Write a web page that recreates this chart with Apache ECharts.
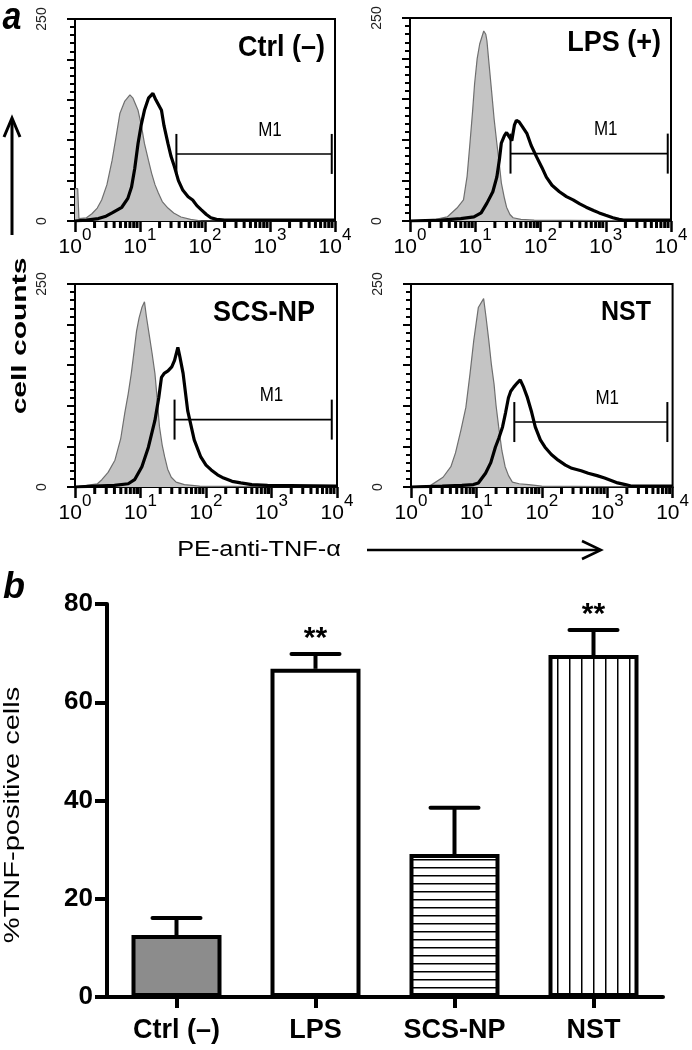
<!DOCTYPE html>
<html><head><meta charset="utf-8">
<script src="https://cdn.jsdelivr.net/npm/echarts@6/dist/echarts.min.js"></script>
<style>html,body{margin:0;padding:0;background:#fff}#chart{width:692px;height:1050px}</style>
</head><body><div id="chart"></div>
<script>
// ---------- Panel a: flow cytometry histograms (x = fluorescence, y = cell counts) ----------
const xExpLabels = ['0', '1', '2', '3', '4'];
const minorTickValues = [2,3,4,5,6,7,8,9,20,30,40,50,60,70,80,90,200,300,400,500,600,700,800,900,2000,3000,4000,5000,6000,7000,8000,9000];
const yHistLabelValues = [0, 250];
const panelTitles = ['Ctrl (–)', 'LPS (+)', 'SCS-NP', 'NST'];
const gateLabel = 'M1';
const gateLabelX = 1000;

const grayCtrl = [[1,40],[1.1,40],[1.15,3],[1.5,4],[1.82,9],[2.2,16],[2.57,26],[3.1,45],[3.72,75],[4.3,105],[4.9,133],[5.8,148],[7.0,156],[7.8,152],[9.33,137],[10.5,118],[11.7,96],[13.5,75],[15.1,59],[17,45],[19.1,35],[22,24],[26.9,16],[33,10],[42.7,5],[60,2],[89,0],[10000,0]];
const blackCtrl = [[1,0],[1.5,1],[2.29,3],[3.0,6],[3.72,10],[5.25,17],[6.5,28],[7.41,42],[8.3,65],[9.33,96],[10.5,120],[11.7,137],[13.5,152],[15.8,158],[17.5,150],[21.4,137],[23.4,118],[26.9,96],[30,80],[33.9,67],[39,50],[45.7,38],[55,30],[64.6,26],[75,19],[87.1,14],[105,8],[123,4],[150,2],[200,1],[10000,1]];

const grayLps = [[1,0],[2.5,2],[3.72,5],[5.25,16],[6.6,26],[7.5,55],[8.3,96],[9.1,135],[9.77,169],[10.7,200],[11.7,218],[13.5,234],[14.5,230],[15.1,222],[16.2,195],[17.8,160],[19.5,125],[21.4,96],[23.4,70],[25.1,47],[28,28],[30.2,17],[34,8],[38,4],[50,2],[80,1],[10000,0]];
const blackLps = [[1,0],[3,1],[6,3],[9.55,5],[12.3,10],[15.1,22],[18.6,36],[21.4,54],[23.4,75],[25.1,96],[28,105],[30.2,109],[33,104],[36.3,99],[39.8,118],[42.7,124],[47,122],[53,116],[61.7,108],[72,93],[87.1,79],[105,66],[123,54],[150,44],[195,36],[250,30],[316,26],[400,21],[501,17],[650,13],[794,10],[1000,7],[1288,4],[1600,2],[1862,1],[10000,1]];

const grayScs = [[1,0],[1.5,2],[2.2,4],[2.57,9],[3.2,18],[4.07,33],[5,60],[5.75,91],[6.5,115],[7.24,140],[8.0,168],[8.7,192],[9.5,208],[10.5,221],[11.5,228],[12.3,210],[13.8,184],[15,165],[16.6,140],[18,108],[19.5,74],[21.4,52],[23.4,37],[26,22],[29.5,12],[35,6],[46.8,3],[80,1],[10000,0]];
const blackScs = [[1,0],[2,1],[4,2],[6.5,4],[8.13,9],[10.5,25],[13.2,49],[16.6,82],[19,110],[20.9,135],[23,140],[26.3,143],[30,148],[33.1,156],[37.2,172],[40,160],[44.7,140],[52.5,94],[66.1,58],[83.2,37],[100,27],[120,21],[150,15],[186,11],[250,7],[339,5],[500,3],[871,2],[10000,1]];

const grayNst = [[1,0],[2,2],[3.09,12],[4.07,25],[4.79,42],[5.8,70],[6.9,98],[8,140],[9.1,180],[10.7,221],[12.9,232],[14,210],[15.5,180],[17,150],[18.6,127],[20,100],[21.9,74],[24.5,45],[27.5,25],[31,14],[35.5,6],[45,4],[63.1,3],[100,1],[10000,0]];
const blackNst = [[1,0],[3,1],[6,2],[9,3],[10.7,5],[13.8,17],[16.6,30],[19.5,49],[22,60],[25.1,74],[28,92],[30.9,110],[33.5,118],[37.2,123],[42,128],[46.8,132],[52,124],[60.3,110],[70,92],[79.4,74],[95,58],[112,49],[140,40],[178,33],[230,27],[288,23],[400,20],[513,17],[700,14],[912,11],[1150,8],[1445,5],[1900,3],[2399,1],[10000,1]];

// M1 gate: [start, end, level]
const gateCtrl = [36.3, 8913, 83];
const gateLps = [34.7, 8913, 83];
const gateScs = [33.1, 8318, 83];
const gateNst = [38, 8318, 80];

// ---------- Panel b: bar chart ----------
const barCategories = ['Ctrl (–)', 'LPS', 'SCS-NP', 'NST'];
const barMeans = [12.6, 66.8, 29.1, 69.6];
const barErrTop = [16.1, 69.8, 38.5, 74.7];
const barSignif = ['', '**', '', '**'];
const barTickLabels = ['0', '20', '40', '60', '80'];

// ---------- layout / style ----------
const FONT = '"Liberation Sans", Arial, Helvetica, sans-serif';
const grays = [grayCtrl, grayLps, grayScs, grayNst];
const blacks = [blackCtrl, blackLps, blackScs, blackNst];
const gates = [gateCtrl, gateLps, gateScs, gateNst];
const histGrids = [
  {left: 75, top: 19, width: 260, height: 202},
  {left: 410, top: 18, width: 261, height: 203},
  {left: 75, top: 284, width: 262, height: 203},
  {left: 411, top: 284, width: 262, height: 203}
];
const titlePos = [[325, 48, 27], [661, 43, 27], [315, 313, 27], [651, 312, 25]];

function makePattern(w, h, draw) {
  const c = document.createElement('canvas');
  c.width = w; c.height = h;
  const ctx = c.getContext('2d');
  ctx.fillStyle = '#fff'; ctx.fillRect(0, 0, w, h);
  ctx.fillStyle = '#000'; draw(ctx, w, h);
  return c;
}
const hPattern = makePattern(4, 8, (ctx, w) => ctx.fillRect(0, 3, w, 1.5));
const vPattern = makePattern(12, 4, (ctx, w, h) => ctx.fillRect(5, 0, 1.5, h));
const barFills = ['#8c8c8c', '#ffffff', {image: hPattern, repeat: 'repeat'}, {image: vPattern, repeat: 'repeat'}];

const grid = [], xAxis = [], yAxis = [], series = [];
histGrids.forEach((g, i) => {
  grid.push(Object.assign({show: true, borderColor: '#000', borderWidth: 2}, g));
  xAxis.push({
    type: 'log', logBase: 10, min: 1, max: 10000, gridIndex: i,
    axisLine: {show: true, onZero: false, lineStyle: {color: '#000', width: 2}},
    axisTick: {show: true, length: 11, lineStyle: {color: '#000', width: 2.5}},
    splitLine: {show: false},
    axisLabel: {
      margin: 6,
      formatter: v => '{b|10}{s|' + xExpLabels[Math.round(Math.log10(v))] + '}',
      rich: {
        b: {fontSize: 21, fontFamily: FONT, color: '#000', padding: [10, 0, 0, 0], verticalAlign: 'bottom'},
        s: {fontSize: 17, fontFamily: FONT, color: '#000', verticalAlign: 'top'}
      }
    }
  });
  yAxis.push({
    type: 'value', min: 0, max: 250, interval: 50, gridIndex: i,
    axisLine: {show: true, onZero: false, lineStyle: {color: '#000', width: 2}},
    axisTick: {show: true, length: 8, lineStyle: {color: '#000', width: 2}},
    minorTick: {show: true, splitNumber: 5, length: 5, lineStyle: {color: '#000', width: 2}},
    splitLine: {show: false},
    minorSplitLine: {show: false},
    axisLabel: {rotate: 90, margin: 26, fontSize: 14, fontFamily: FONT, color: '#222',
      formatter: v => yHistLabelValues.indexOf(v) >= 0 ? String(v) : ''}
  });
  series.push({type: 'line', xAxisIndex: i, yAxisIndex: i, data: grays[i], symbol: 'none',
    lineStyle: {color: '#6f6f6f', width: 1.2}, areaStyle: {color: '#c4c4c4', opacity: 1}, z: 2, silent: true});
  series.push({type: 'line', xAxisIndex: i, yAxisIndex: i, data: blacks[i], symbol: 'none',
    lineStyle: {color: '#000', width: 3.2}, z: 3, silent: true});
  series.push({type: 'custom', xAxisIndex: i, yAxisIndex: i, data: [gates[i]], z: 4, silent: true, clip: false,
    renderItem: (params, api) => {
      const s = api.value(0), e = api.value(1), y = api.value(2);
      const p1 = api.coord([s, y]), p2 = api.coord([e, y]);
      const lp = api.coord([gateLabelX, y]);
      return {type: 'group', children: [
        {type: 'line', shape: {x1: p1[0], y1: p1[1], x2: p2[0], y2: p2[1]}, style: {stroke: '#000', lineWidth: 1.6}},
        {type: 'line', shape: {x1: p1[0], y1: p1[1] - 20, x2: p1[0], y2: p1[1] + 20}, style: {stroke: '#000', lineWidth: 2}},
        {type: 'line', shape: {x1: p2[0], y1: p2[1] - 20, x2: p2[0], y2: p2[1] + 20}, style: {stroke: '#000', lineWidth: 2}},
        {type: 'text', x: lp[0], y: lp[1] - 24, scaleY: 1.2,
          style: {text: gateLabel, font: '17px ' + FONT, fill: '#000', align: 'center', verticalAlign: 'middle', textAlign: 'center', textVerticalAlign: 'middle'}}
      ]};
    }});
  series.push({type: 'custom', xAxisIndex: i, yAxisIndex: i, data: minorTickValues.map(v => [v, 0]), z: 5, silent: true, clip: false,
    renderItem: (params, api) => {
      const p = api.coord([api.value(0), 0]);
      return {type: 'line', shape: {x1: p[0], y1: p[1] + 1, x2: p[0], y2: p[1] + 7}, style: {stroke: '#000', lineWidth: 3}};
    }});
});

// bar chart grid
grid.push({left: 107, top: 604, width: 556, height: 393, show: false});
xAxis.push({
  type: 'category', gridIndex: 4, data: barCategories,
  axisLine: {show: true, lineStyle: {color: '#000', width: 4}},
  axisTick: {show: true, alignWithLabel: true, length: 11, lineStyle: {color: '#000', width: 4}},
  axisLabel: {margin: 20, fontSize: 27, fontWeight: 'bold', fontFamily: FONT, color: '#000'}
});
yAxis.push({
  type: 'value', gridIndex: 4, min: 0, max: 80, interval: 20,
  axisLine: {show: true, lineStyle: {color: '#000', width: 4}},
  axisTick: {show: true, length: 12, lineStyle: {color: '#000', width: 4}},
  splitLine: {show: false},
  axisLabel: {margin: 14, fontSize: 26, fontWeight: 'bold', fontFamily: FONT, color: '#000',
    formatter: v => barTickLabels[Math.round(v / 20)]}
});
series.push({
  type: 'bar', xAxisIndex: 4, yAxisIndex: 4, barWidth: 90, z: 2, silent: true,
  data: barMeans.map((v, i) => ({value: v, itemStyle: {color: barFills[i], borderColor: '#000', borderWidth: 4}}))
});
series.push({
  type: 'custom', xAxisIndex: 4, yAxisIndex: 4, z: 3, silent: true, clip: false,
  data: barMeans.map((v, i) => [i, v, barErrTop[i]]),
  renderItem: (params, api) => {
    const x = api.value(0);
    const p0 = api.coord([x, api.value(1)]), p1 = api.coord([x, api.value(2)]);
    return {type: 'group', children: [
      {type: 'line', shape: {x1: p0[0], y1: p0[1], x2: p1[0], y2: p1[1]}, style: {stroke: '#000', lineWidth: 4}},
      {type: 'line', shape: {x1: p1[0] - 24, y1: p1[1], x2: p1[0] + 24, y2: p1[1]}, style: {stroke: '#000', lineWidth: 4, lineCap: 'round'}},
      {type: 'text', x: p1[0], y: p1[1] - 15,
        style: {text: barSignif[params.dataIndex], font: 'bold 30px ' + FONT, fill: '#000', align: 'center', verticalAlign: 'middle', textAlign: 'center', textVerticalAlign: 'middle'}}
    ]};
  }
});

function txt(text, x, y, font, opts) {
  return Object.assign({type: 'text', x: x, y: y, silent: true,
    style: {text: text, font: font, fill: '#000', align: 'center', verticalAlign: 'middle', textAlign: 'center', textVerticalAlign: 'middle'}}, opts || {});
}
const graphic = [
  txt('a', 12, 18, 'italic bold 34px ' + FONT, {scaleY: 1.15}),
  txt('b', 14, 588, 'italic bold 36px ' + FONT),
  txt('cell counts', 20, 336, 'bold 20px ' + FONT, {rotation: Math.PI / 2, scaleX: 1.5}),
  txt('PE-anti-TNF-α', 259, 550, '22px ' + FONT, {scaleX: 1.15}),
  txt('%TNF-positive cells', 13, 815, '22px ' + FONT, {rotation: Math.PI / 2, scaleX: 1.32}),
  {type: 'line', silent: true, shape: {x1: 12, y1: 235, x2: 12, y2: 119}, style: {stroke: '#000', lineWidth: 3}},
  {type: 'polyline', silent: true, shape: {points: [[4, 137], [12, 118], [20, 137]]}, style: {stroke: '#000', lineWidth: 3, fill: null}},
  {type: 'line', silent: true, shape: {x1: 367, y1: 550, x2: 600, y2: 550}, style: {stroke: '#000', lineWidth: 2.5}},
  {type: 'polyline', silent: true, shape: {points: [[582, 541], [601, 550], [582, 559]]}, style: {stroke: '#000', lineWidth: 2.5, fill: null}}
];
panelTitles.forEach((t, i) => {
  const p = titlePos[i];
  graphic.push({type: 'text', x: p[0], y: p[1], scaleY: 1.12, silent: true,
    style: {text: t, font: 'bold ' + p[2] + 'px ' + FONT, fill: '#000', align: 'right', verticalAlign: 'middle', textAlign: 'right', textVerticalAlign: 'middle'}});
});

const chart = echarts.init(document.getElementById('chart'), null, {renderer: 'canvas'});
chart.setOption({animation: false, backgroundColor: '#fff', grid, xAxis, yAxis, series, graphic});
</script></body></html>
